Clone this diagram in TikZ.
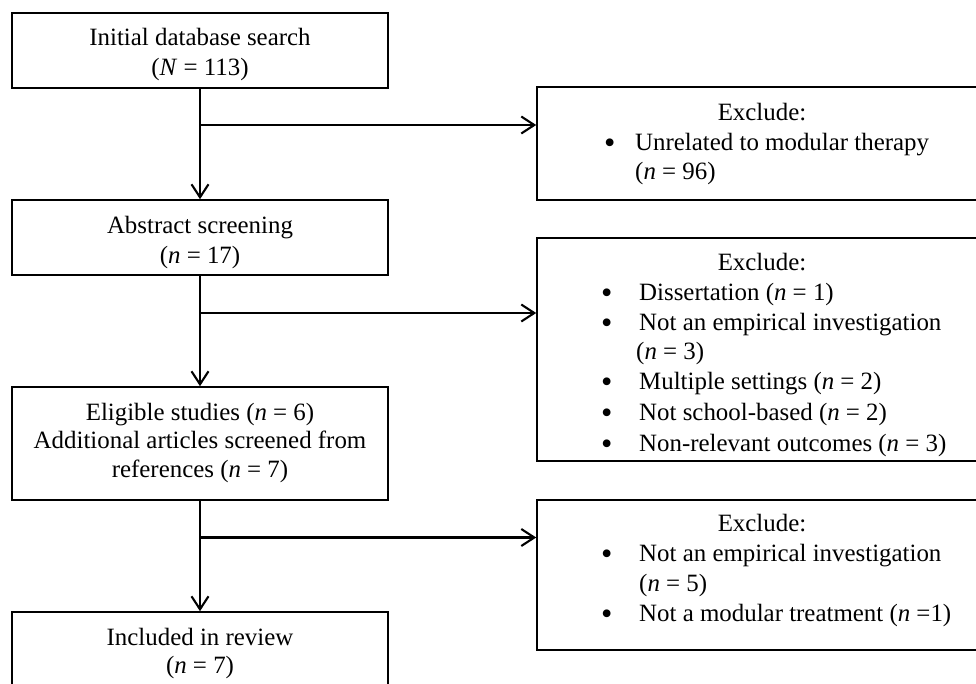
\documentclass[tikz,border=0pt]{standalone}
\usepackage{fontspec}
\usepackage{graphicx}
\setmainfont{Liberation Serif}
\usetikzlibrary{arrows.meta}
\newcommand{\blt}[1]{\makebox[#1][l]{\smash{\raisebox{-3pt}{\scalebox{1.3}{•}}}}}
\begin{document}
\begin{tikzpicture}[x=1pt,y=-1pt,
  boxx/.style={draw=black,line width=1.6pt,rectangle,inner sep=0pt,minimum width=#1},
  txt/.style={inner sep=0pt,font=\fontsize{24.9}{29}\selectfont},
  conn/.style={line width=2.1pt,-{Straight Barb[length=13pt,width=17pt,line width=2.1pt]}}]
\clip (0,0) rectangle (976,683);
\fill[white] (0,0) rectangle (976,683);
% left boxes
\node[boxx=376pt,minimum height=75pt] (b1) at (200,50.5) {};
\node[boxx=376pt,minimum height=75pt] (b2) at (200,237.5) {};
\node[boxx=376pt,minimum height=113pt] (b3) at (200,443.5) {};
\node[boxx=376pt,minimum height=110pt] (b4) at (200,667) {};
% right boxes
\node[boxx=463pt,minimum height=113pt] (r1) at (768.5,143.5) {};
\node[boxx=463pt,minimum height=223pt] (r2) at (768.5,349.5) {};
\node[boxx=463pt,minimum height=150pt] (r3) at (768.5,575) {};
% left texts
\node[txt,anchor=base] (t1a) at (200,45) {Initial database search};
\node[txt,anchor=base] (t1b) at (200,75) {(\textit{N} = 113)};
\node[txt,anchor=base] (t2a) at (200,233) {Abstract screening};
\node[txt,anchor=base] (t2b) at (200,263) {(\textit{n} = 17)};
\node[txt,anchor=base] (t3a) at (200,420) {Eligible studies (\textit{n} = 6)};
\node[txt,anchor=base] (t3b) at (200,448.5) {Additional articles screened from};
\node[txt,anchor=base] (t3c) at (200,477) {references (\textit{n} = 7)};
\node[txt,anchor=base] (t4a) at (200,645) {Included in review};
\node[txt,anchor=base] (t4b) at (200,673) {(\textit{n} = 7)};
% right box 1
\node[txt,anchor=base] (e1) at (762,120.7) {Exclude:};
\node[txt,anchor=base west] (e1a) at (604,150.7) {\blt{31pt}Unrelated to modular therapy};
\node[txt,anchor=base west] (e1b) at (635,179.5) {(\textit{n} = 96)};
% right box 2
\node[txt,anchor=base] (e2) at (762,270) {Exclude:};
\node[txt,anchor=base west] (e2a) at (601,300) {\blt{38pt}Dissertation (\textit{n} = 1)};
\node[txt,anchor=base west] (e2b) at (601,330) {\blt{38pt}Not an empirical investigation};
\node[txt,anchor=base west] (e2c) at (636,359.5) {(\textit{n} = 3)};
\node[txt,anchor=base west] (e2d) at (601,389.5) {\blt{38pt}Multiple settings (\textit{n} = 2)};
\node[txt,anchor=base west] (e2e) at (601,420) {\blt{38pt}Not school-based (\textit{n} = 2)};
\node[txt,anchor=base west] (e2f) at (601,451.5) {\blt{38pt}Non-relevant outcomes (\textit{n} = 3)};
% right box 3
\node[txt,anchor=base] (e3) at (762,531.7) {Exclude:};
\node[txt,anchor=base west] (e3a) at (601,561.7) {\blt{38pt}Not an empirical investigation};
\node[txt,anchor=base west] (e3b) at (639,591.7) {(\textit{n} = 5)};
\node[txt,anchor=base west] (e3c) at (601,621.7) {\blt{38pt}Not a modular treatment (\textit{n} =1)};
% connectors
\coordinate (j1) at (200,125);
\coordinate (j2) at (200,313);
\coordinate (j3) at (200,537.5);
\draw[conn] (b1.south) -- (b2.north);
\draw[conn] (b2.south) -- (b3.north);
\draw[conn] (b3.south) -- (b4.north);
\draw[conn] (j1) -- (r1.west |- j1);
\draw[conn] (j2) -- (r2.west |- j2);
\draw[conn] (j3) -- (r3.west |- j3);
\end{tikzpicture}
\end{document}
